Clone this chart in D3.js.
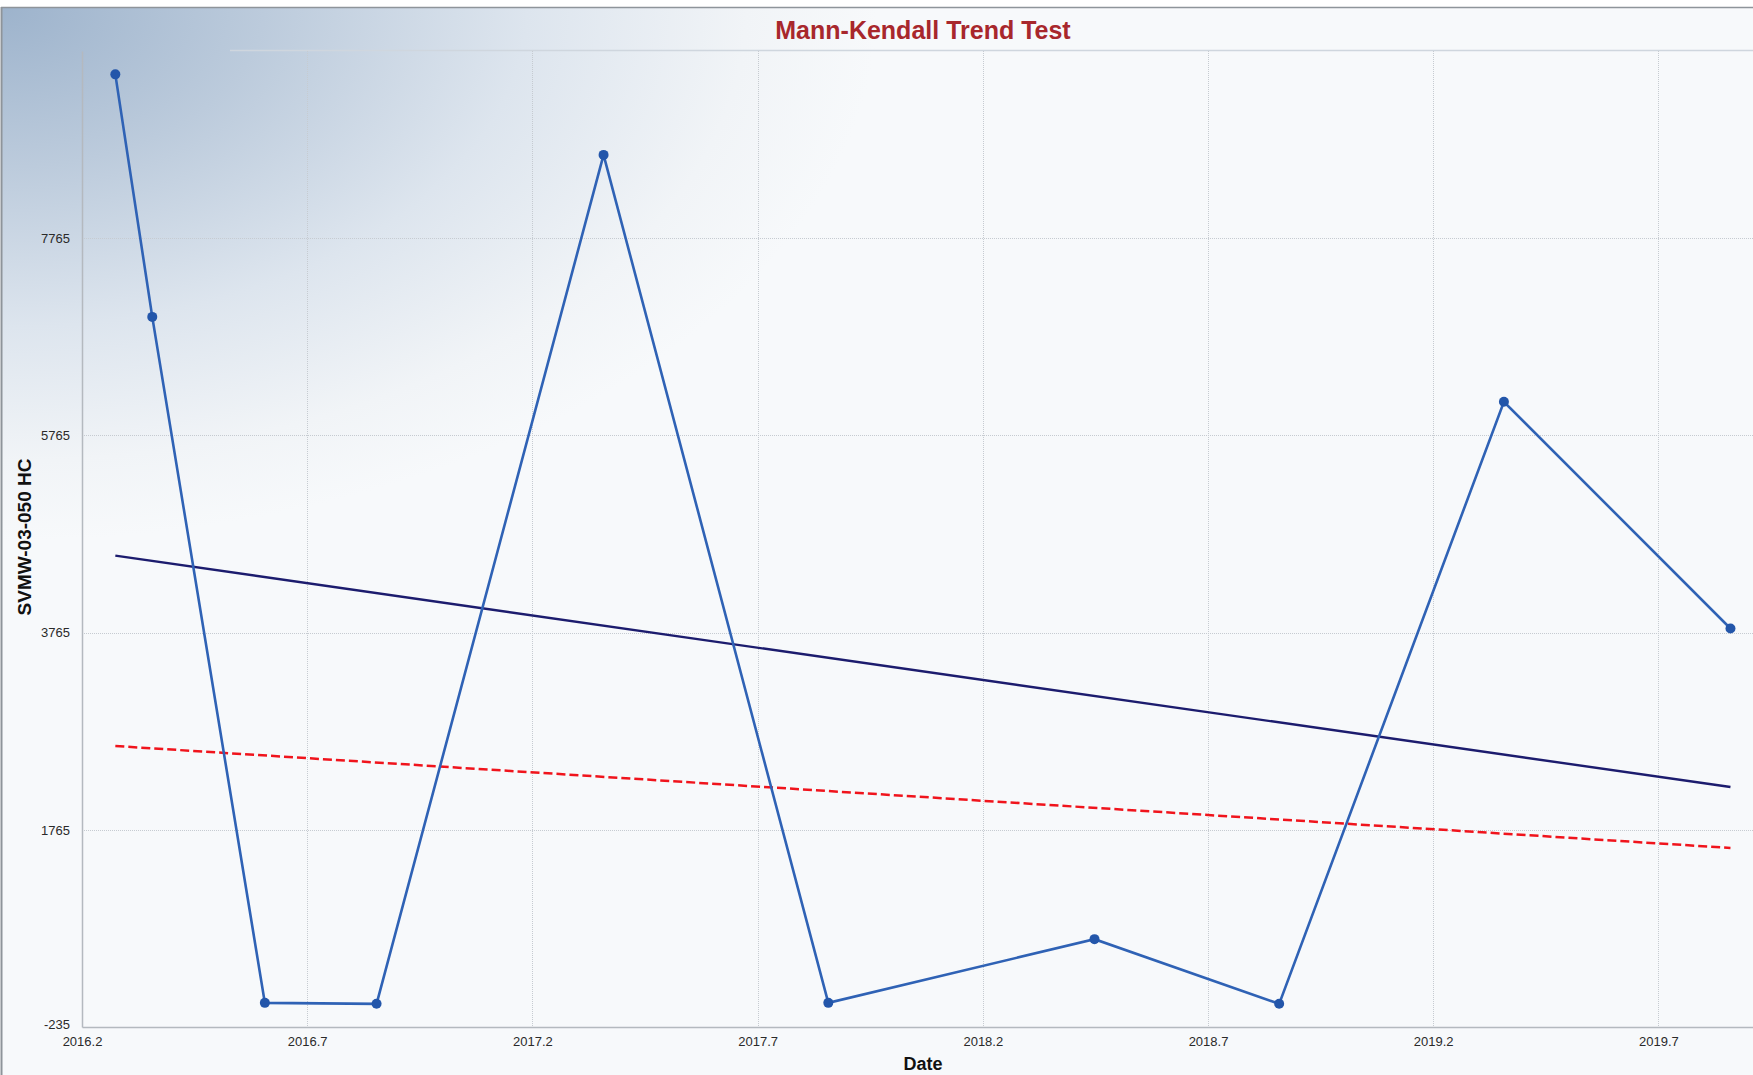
<!DOCTYPE html>
<html lang="en">
<head>
    <title>Mann-Kendall Trend Test</title>
    <script src="https://cdn.jsdelivr.net/npm/d3@7"></script>
    <style>
        body { margin: 0; background: #fff; }
        svg { display: block; font-family: "Liberation Sans", Arial, sans-serif; }
    </style>
</head>
<body>
    <svg id="chart" width="1753" height="1075"></svg>
    <script>
        // sample dates (decimal years) and measured values
        var dates = [2016.274, 2016.356, 2016.606, 2016.854, 2017.358, 2017.857, 2018.448, 2018.858, 2019.357, 2019.860];
        var values = [9428, 6968, 10, 0, 8611, 10, 656, 0, 6107, 3807];

        // trend line end points
        var trendDates = [2016.274, 2019.860];
        var trendValues = [4546, 2199];
        var lowerValues = [2615, 1581];

        var xTicks = [2016.2, 2016.7, 2017.2, 2017.7, 2018.2, 2018.7, 2019.2, 2019.7];
        var yTicks = [-235, 1765, 3765, 5765, 7765];

        var W = 1753, H = 1075;
        var plotLeft = 82, plotTop = 51, plotBottom = 1027;

        var svg = d3.select("#chart");

        var defs = svg.append("defs");
        var grad = defs.append("radialGradient")
            .attr("id", "bg").attr("cx", 0).attr("cy", 0).attr("r", 0.5).attr("fx", 0).attr("fy", 0);
        grad.append("stop").attr("offset", "0%").attr("stop-color", "#9db3cc");
        grad.append("stop").attr("offset", "30%").attr("stop-color", "#bccbdc");
        grad.append("stop").attr("offset", "60%").attr("stop-color", "#dde5ee");
        grad.append("stop").attr("offset", "85%").attr("stop-color", "#f1f4f7");
        grad.append("stop").attr("offset", "100%").attr("stop-color", "#f7f9fb");

        svg.append("rect").attr("x", 1).attr("y", 7).attr("width", W).attr("height", H - 7)
            .attr("fill", "url(#bg)");
        // frame
        svg.append("line").attr("x1", 1).attr("x2", W).attr("y1", 7.5).attr("y2", 7.5)
            .attr("stroke", "#8e949a").attr("stroke-width", 1.5);
        svg.append("line").attr("x1", 1.5).attr("x2", 1.5).attr("y1", 7).attr("y2", H)
            .attr("stroke", "#8e949a").attr("stroke-width", 2);
        svg.append("line").attr("x1", 230).attr("x2", W).attr("y1", plotTop - 0.5).attr("y2", plotTop - 0.5)
            .attr("stroke", "#cfd6de").attr("stroke-width", 1.5);

        var x = d3.scaleLinear().domain([2016.2, 2016.2 + (W - plotLeft) / 450.4]).range([plotLeft, W]);
        var y = d3.scaleLinear().domain([-235, 9665]).range([plotBottom, plotTop]);

        // grid
        svg.append("g").selectAll("line").data(xTicks.slice(1)).enter().append("line")
            .attr("x1", d => Math.round(x(d)) + 0.5).attr("x2", d => Math.round(x(d)) + 0.5)
            .attr("y1", plotTop).attr("y2", plotBottom)
            .attr("stroke", "#c6cbd1").attr("stroke-dasharray", "1,1");
        svg.append("g").selectAll("line").data(yTicks.slice(1)).enter().append("line")
            .attr("x1", plotLeft).attr("x2", W)
            .attr("y1", d => Math.round(y(d)) + 0.5).attr("y2", d => Math.round(y(d)) + 0.5)
            .attr("stroke", "#c6cbd1").attr("stroke-dasharray", "1,1");

        // axes
        var xAxis = svg.append("g").attr("transform", `translate(0,${plotBottom})`)
            .call(d3.axisBottom(x).tickValues(xTicks).tickFormat(d3.format(".1f")).tickSize(0).tickPadding(10));
        var yAxis = svg.append("g").attr("transform", `translate(${plotLeft},0)`)
            .call(d3.axisLeft(y).tickValues(yTicks).tickFormat(d => d).tickSize(0).tickPadding(12));
        [xAxis, yAxis].forEach(function (a) {
            a.select(".domain").attr("stroke", "#b4b9bf").attr("stroke-width", 1.5);
            a.selectAll("text").attr("font-size", 13).attr("fill", "#2a2a2a")
                .attr("font-family", "\"Liberation Sans\", Arial, sans-serif");
        });
        yAxis.selectAll(".tick text").filter(d => d === -235).attr("dy", "0.1em");

        // title and labels
        svg.append("text").attr("x", 923).attr("y", 39).attr("text-anchor", "middle")
            .attr("font-size", 25).attr("font-weight", "bold").attr("fill", "#a8272c")
            .text("Mann-Kendall Trend Test");
        svg.append("text").attr("x", 923).attr("y", 1070).attr("text-anchor", "middle")
            .attr("font-size", 18).attr("font-weight", "bold").attr("fill", "#111")
            .text("Date");
        svg.append("text").attr("transform", "translate(31,537) rotate(-90)").attr("text-anchor", "middle")
            .attr("font-size", 19).attr("font-weight", "bold").attr("fill", "#111")
            .text("SVMW-03-050 HC");

        // trend lines
        var line = d3.line().x(d => x(d[0])).y(d => y(d[1]));
        svg.append("path").datum(d3.zip(trendDates, lowerValues))
            .attr("d", line).attr("fill", "none")
            .attr("stroke", "#f0141c").attr("stroke-width", 2.5).attr("stroke-dasharray", "9,4");
        svg.append("path").datum(d3.zip(trendDates, trendValues))
            .attr("d", line).attr("fill", "none")
            .attr("stroke", "#1c1c6e").attr("stroke-width", 2.4);

        // data series
        var pts = d3.zip(dates, values);
        svg.append("path").datum(pts).attr("d", line).attr("fill", "none")
            .attr("stroke", "#2f62b5").attr("stroke-width", 2.6);
        svg.append("g").selectAll("circle").data(pts).enter().append("circle")
            .attr("cx", d => x(d[0])).attr("cy", d => y(d[1])).attr("r", 5)
            .attr("fill", "#2356aa");
    </script>
</body>
</html>
